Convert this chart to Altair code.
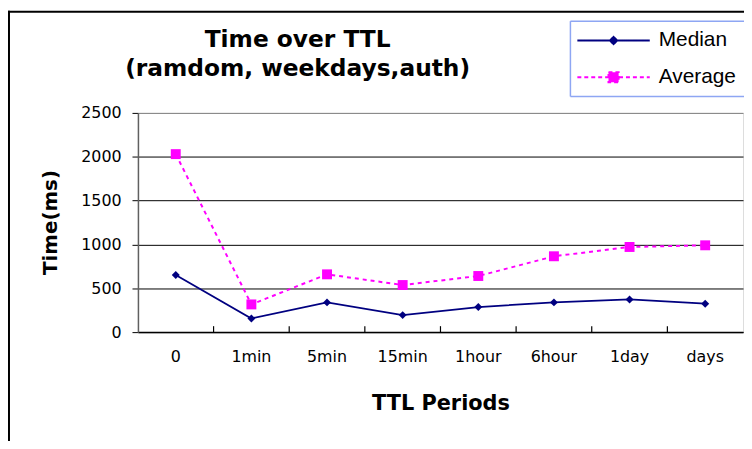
import altair as alt
import pandas as pd

periods = ["0", "1min", "5min", "15min", "1hour", "6hour", "1day", "days"]
median = [651, 156, 339, 194, 286, 339, 373, 324]
average = [2030, 316, 659, 537, 640, 865, 971, 990]
series = ["Median", "Average"]
y_ticks = [0, 500, 1000, 1500, 2000, 2500]
title_lines = ["Time over TTL", "(ramdom, weekdays,auth)"]

NAVY = "#000080"
MAGENTA = "#ff00ff"
LEG_BORDER = "#8ea6f3"
W, H = 610, 221

df = pd.DataFrame({
    "period": periods * 2,
    "time": median + average,
    "series": ["Median"] * len(periods) + ["Average"] * len(periods),
})

xscale = alt.Scale(type="band", domain=periods, paddingInner=0, paddingOuter=0)
x_enc = alt.X(
    "period:N", sort=periods, scale=xscale,
    axis=alt.Axis(title="TTL Periods", labelAngle=0, ticks=False, domainColor="#000000",
                  domainWidth=1.5, labelFont="DejaVu Sans", labelFontSize=16, labelColor="#000",
                  labelPadding=17, titleFont="DejaVu Sans", titleFontSize=21, titleFontWeight="bold",
                  titleY=78, titleBaseline="alphabetic", titleColor="#000", grid=False),
)
y_enc = alt.Y(
    "time:Q", scale=alt.Scale(domain=[0, 2500], nice=False),
    axis=alt.Axis(title="Time(ms)", values=y_ticks, format="d", tickSize=6, tickColor="#000",
                  domainColor="#606060", domainWidth=1.5, labelFont="DejaVu Sans", labelFontSize=16,
                  labelColor="#000", labelPadding=11,
                  gridColor={"condition": {"test": "datum.value == 2500", "value": "#808080"}, "value": "#000000"},
                  gridWidth=1, titleFont="DejaVu Sans", titleFontSize=20, titleFontWeight="bold",
                  titleAngle=270, titleX=-82, titleY=110, titleBaseline="alphabetic",
                  titleAlign="center", titleColor="#000"),
)

base = alt.Chart(df)

med_line = base.transform_filter("datum.series == 'Median'").mark_line(
    color=NAVY, strokeWidth=1.8).encode(x=x_enc, y=y_enc)
avg_line = base.transform_filter("datum.series == 'Average'").mark_line(
    color=MAGENTA, strokeWidth=2, strokeDash=[4, 4]).encode(x=x_enc, y=y_enc)
med_pts = base.transform_filter("datum.series == 'Median'").mark_point(
    shape="diamond", filled=True, color=NAVY, size=64, opacity=1).encode(x=x_enc, y=y_enc)
avg_pts = base.transform_filter("datum.series == 'Average'").mark_point(
    shape="square", filled=True, color=MAGENTA, size=100, opacity=1).encode(x=x_enc, y=y_enc)

# x tick marks between categories (inside the plot, at band edges)
ticks = alt.Chart(pd.DataFrame({"period": periods[1:]})).mark_rule(
    color="#000", strokeWidth=1.2).encode(
    x=alt.X("period:N", sort=periods, scale=xscale, bandPosition=0),
    y=alt.value(H - 6), y2=alt.value(H))

# legend-only layer (no data drawn)
path_med = "M-1,0L1,0M0,-0.1L0.1,0L0,0.1L-0.1,0Z"
path_avg = "M-1,0L1,0M-0.14,-0.14L0.14,-0.14L0.14,0.14L-0.14,0.14Z"
leg = alt.Legend(title=None, orient="none", legendX=436, legendY=-94, padding=6,
                 clipHeight=30, rowPadding=7, labelOffset=8, symbolSize=5329,
                 symbolStrokeWidth=2, labelFont="Liberation Sans", labelFontSize=21,
                 labelColor="#000", labelLimit=0)
legend_layer = base.transform_filter("false").mark_point(
    filled=True, opacity=1, size=5329, strokeWidth=2).encode(
    fill=alt.Fill("series:N", scale=alt.Scale(domain=series, range=[NAVY, MAGENTA]), legend=leg),
    stroke=alt.Stroke("series:N", scale=alt.Scale(domain=series, range=[NAVY, MAGENTA]), legend=leg),
    shape=alt.Shape("series:N", scale=alt.Scale(domain=series, range=[path_med, path_avg]), legend=leg),
    strokeDash=alt.StrokeDash("series:N", scale=alt.Scale(domain=series, range=[[1, 0], [4, 3]]), legend=leg),
)

one = pd.DataFrame({"a": [0]})
# legend box border (open on the right, running off the chart edge)
lb_top = alt.Chart(one).mark_rule(color=LEG_BORDER, strokeWidth=1.5).encode(
    x=alt.value(436), x2=alt.value(W + 20), y=alt.value(-92.5))
lb_bot = alt.Chart(one).mark_rule(color=LEG_BORDER, strokeWidth=1.5).encode(
    x=alt.value(436), x2=alt.value(W + 20), y=alt.value(-16.5))
lb_left = alt.Chart(one).mark_rule(color=LEG_BORDER, strokeWidth=1.5).encode(
    x=alt.value(436), y=alt.value(-92.5), y2=alt.value(-16.5))

# outer chart frame (top and left edges)
frame_top = alt.Chart(one).mark_rule(color="#000", strokeWidth=2).encode(
    x=alt.value(-131), x2=alt.value(W + 20), y=alt.value(-102))
frame_left = alt.Chart(one).mark_rule(color="#000", strokeWidth=2).encode(
    x=alt.value(-130), y=alt.value(-103), y2=alt.value(H + 200))

chart = alt.layer(frame_top, frame_left, lb_top, lb_bot, lb_left,
                  avg_line, med_line, med_pts, avg_pts, ticks, legend_layer).properties(
    width=W, height=H,
    padding={"left": 131, "top": 104, "right": 1, "bottom": 108},
    autosize=alt.AutoSizeParams(type="none"),
    title=alt.TitleParams(text=title_lines, font="DejaVu Sans", fontSize=23.5, fontWeight="bold",
                          anchor="middle", dx=-144, dy=90, lineHeight=29, baseline="alphabetic",
                          offset=0, color="#000"),
).configure_view(fill="#c0c0c0", stroke="#808080", strokeWidth=2).configure(background="#ffffff")

chart.save("out.html", embed_options={"renderer": "svg", "actions": False})
